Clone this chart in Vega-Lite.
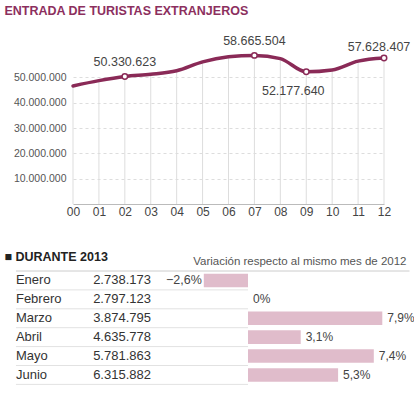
{
  "$schema": "https://vega.github.io/schema/vega-lite/v6.json",
  "padding": {"left": 4, "top": 4, "right": 0, "bottom": 0},
  "config": {
    "font": "Liberation Sans",
    "view": {"stroke": null},
    "locale": {"number": {"decimal": ",", "thousands": ".", "grouping": [3], "currency": ["", " €"]}}
  },
  "title": {"text": "ENTRADA DE TURISTAS EXTRANJEROS", "anchor": "start", "fontSize": 12.5, "fontWeight": "bold", "color": "#8c2f5e", "offset": 18},
  "spacing": 33,
  "datasets": {
    "serie": [
      {"anio": "00", "valor": 46600000},
      {"anio": "01", "valor": 48700000},
      {"anio": "02", "valor": 50330623},
      {"anio": "03", "valor": 51200000},
      {"anio": "04", "valor": 52600000},
      {"anio": "05", "valor": 56100000},
      {"anio": "06", "valor": 58100000},
      {"anio": "07", "valor": 58665504},
      {"anio": "08", "valor": 57400000},
      {"anio": "09", "valor": 52177640},
      {"anio": "10", "valor": 52900000},
      {"anio": "11", "valor": 56400000},
      {"anio": "12", "valor": 57628407}
    ],
    "meses": [
      {"mes": "Enero", "turistas": 2738173, "variacion": -2.6, "etiqueta": "−2,6%"},
      {"mes": "Febrero", "turistas": 2797123, "variacion": 0, "etiqueta": "0%"},
      {"mes": "Marzo", "turistas": 3874795, "variacion": 7.9, "etiqueta": "7,9%"},
      {"mes": "Abril", "turistas": 4635778, "variacion": 3.1, "etiqueta": "3,1%"},
      {"mes": "Mayo", "turistas": 5781863, "variacion": 7.4, "etiqueta": "7,4%"},
      {"mes": "Junio", "turistas": 6315882, "variacion": 5.3, "etiqueta": "5,3%"}
    ]
  },
  "vconcat": [
    {
      "width": 311,
      "height": 152,
      "data": {"name": "serie"},
      "encoding": {
        "x": {
          "field": "anio", "type": "ordinal", "sort": null,
          "scale": {"type": "point", "padding": 0},
          "axis": {"title": null, "labelAngle": 0, "ticks": false, "tickSize": 0, "domainColor": "#bbbbbb", "labelFontSize": 12, "labelColor": "#444444", "labelPadding": 2, "grid": false}
        },
        "y": {
          "field": "valor", "type": "quantitative",
          "scale": {"domain": [0, 60000000], "nice": false},
          "axis": {"title": null, "values": [10000000, 20000000, 30000000, 40000000, 50000000], "format": ",d", "domain": false, "ticks": false, "tickSize": 0, "labelPadding": 7, "labelFontSize": 10.5, "labelColor": "#555555", "grid": true, "gridDash": [3, 3], "gridColor": "#dddddd", "minExtent": 68}
        }
      },
      "layer": [
        {"mark": {"type": "rule", "color": "#dddddd", "strokeWidth": 1}, "encoding": {"y2": {"datum": 0}}},
        {"mark": {"type": "line", "color": "#8a2a57", "strokeWidth": 3.5, "interpolate": "monotone", "strokeCap": "round"}},
        {
          "transform": [{"filter": {"field": "anio", "oneOf": ["02", "07", "09", "12"]}}],
          "mark": {"type": "point", "filled": true, "fill": "white", "stroke": "#8a2a57", "strokeWidth": 1.5, "size": 30, "opacity": 1}
        },
        {
          "transform": [{"filter": {"field": "anio", "oneOf": ["02", "07"]}}],
          "mark": {"type": "text", "dy": -14, "fontSize": 12.5, "color": "#444444"},
          "encoding": {"text": {"field": "valor", "type": "quantitative", "format": ",d"}}
        },
        {
          "transform": [{"filter": {"field": "anio", "equal": "12"}}],
          "mark": {"type": "text", "dy": -11, "dx": -5, "fontSize": 12.5, "color": "#444444"},
          "encoding": {"text": {"field": "valor", "type": "quantitative", "format": ",d"}}
        },
        {
          "transform": [{"filter": {"field": "anio", "equal": "09"}}],
          "mark": {"type": "text", "dy": 19, "dx": -13, "fontSize": 12.5, "color": "#444444"},
          "encoding": {"text": {"field": "valor", "type": "quantitative", "format": ",d"}}
        }
      ]
    },
    {
      "width": 333,
      "height": 113.4,
      "data": {"name": "meses"},
      "title": {"text": "■ DURANTE 2013", "anchor": "start", "fontSize": 12.5, "fontWeight": "bold", "color": "#222222", "offset": -8, "dx": -11},
      "encoding": {
        "y": {"field": "mes", "type": "nominal", "sort": null, "scale": {"paddingInner": 0, "paddingOuter": 0}, "axis": null}
      },
      "layer": [
        {
          "mark": {"type": "rule", "color": "#e2e2e2", "strokeWidth": 1},
          "encoding": {
            "y": {"field": "mes", "type": "nominal", "sort": null, "bandPosition": 1},
            "x": {"datum": -13.65, "type": "quantitative", "scale": {"domain": [-10.294, 9.294], "nice": false, "zero": false},
                  "axis": {"orient": "top", "title": "Variación respecto al mismo mes de 2012", "titleAnchor": "end", "labels": false, "ticks": false, "domain": false, "grid": false, "titleFontSize": 11.5, "titleFontWeight": "normal", "titleColor": "#555555", "titlePadding": 5}},
            "x2": {"datum": 0}
          }
        },
        {
          "transform": [{"filter": {"field": "mes", "equal": "Enero"}}],
          "mark": {"type": "rule", "color": "#cccccc", "strokeWidth": 1},
          "encoding": {
            "y": {"field": "mes", "type": "nominal", "sort": null, "bandPosition": 0},
            "x": {"datum": -13.65, "type": "quantitative"},
            "x2": {"datum": 9.5}
          }
        },
        {
          "mark": {"type": "bar", "color": "#e0bccb", "height": {"band": 0.72}},
          "encoding": {"x": {"field": "variacion", "type": "quantitative"}}
        },
        {
          "mark": {"type": "text", "align": "left", "baseline": "middle", "fontSize": 13, "color": "#333333"},
          "encoding": {"x": {"datum": -13.65, "type": "quantitative"}, "text": {"field": "mes"}}
        },
        {
          "mark": {"type": "text", "align": "left", "baseline": "middle", "fontSize": 13, "color": "#333333"},
          "encoding": {"x": {"datum": -9.11, "type": "quantitative"}, "text": {"field": "turistas", "type": "quantitative", "format": ",d"}}
        },
        {
          "transform": [{"filter": "datum.variacion >= 0"}],
          "mark": {"type": "text", "align": "left", "baseline": "middle", "dx": 5, "fontSize": 12, "color": "#444444"},
          "encoding": {"x": {"field": "variacion", "type": "quantitative"}, "text": {"field": "etiqueta"}}
        },
        {
          "transform": [{"filter": "datum.variacion < 0"}],
          "mark": {"type": "text", "align": "right", "baseline": "middle", "dx": -2, "fontSize": 12.5, "color": "#444444"},
          "encoding": {"x": {"field": "variacion", "type": "quantitative"}, "text": {"field": "etiqueta"}}
        }
      ]
    }
  ]
}
